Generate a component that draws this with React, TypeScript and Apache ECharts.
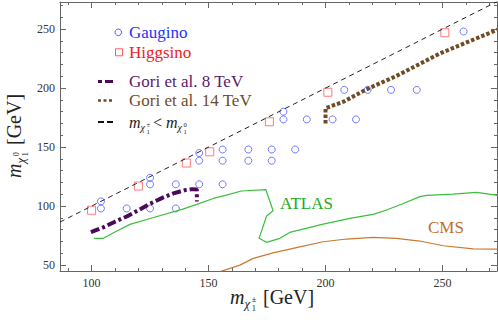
import React, { useEffect, useRef } from "react";
import * as echarts from "echarts";

const SERIF = '"Liberation Serif", "DejaVu Serif", serif';

const X_MIN = 86.5, X_MAX = 273.3, Y_MIN = 45, Y_MAX = 273;
const majorX = [100, 150, 200, 250];
const minorX = [90, 110, 120, 130, 140, 160, 170, 180, 190, 210, 220, 230, 240, 260, 270];
const majorY = [50, 100, 150, 200, 250];
const minorY = [60, 70, 80, 90, 110, 120, 130, 140, 160, 170, 180, 190, 210, 220, 230, 240, 260, 270];

const gaugino: number[][] = [
  [104, 104], [104, 98], [115, 98], [125, 124], [125, 118.5], [125, 98],
  [136, 118.5], [136, 98], [146, 145], [146, 138.5], [146, 118.5],
  [156, 148], [156, 138.5], [156, 118.5], [167, 148], [167, 138.5],
  [177, 148], [177, 138.5], [187, 148], [182, 180], [182, 173.5],
  [192, 173.5], [203, 173.5], [213, 173.5], [208, 198.5], [218, 198.5],
  [228, 198.5], [239, 198.5], [259, 248],
];
const higgsino: number[][] = [
  [100, 96.5], [120, 117], [140.5, 136.5], [150.5, 146], [176, 171.5], [201, 196.5], [251, 247],
];
const gori8: number[][] = [
  [99.7, 78], [105, 82], [110, 86.8], [115, 91.2], [120, 96.5], [125, 102],
  [130, 106.8], [135, 110.8], [140, 113.6], [143, 114.4], [145, 114], [145, 104],
];
const gori14: number[][] = [
  [200, 170], [200, 183], [207.7, 188.5], [217.5, 199], [230, 210], [249, 229.5], [273.5, 249.5],
];
const atlas: number[][] = [
  [101, 72.7], [105, 72.7], [110, 78], [116.4, 84.5], [125, 89.5], [139, 97.5],
  [145, 101.5], [152, 106.5], [158, 109.5], [164, 112.8], [174.5, 113.9],
  [177.6, 96.1], [174.8, 91.6], [171.6, 72.7], [174.8, 69.3], [180.5, 72.7],
  [184.7, 77.7], [199, 84.8], [210.4, 89.6], [220.3, 93], [226.1, 96.7],
  [233, 102], [240.3, 108], [243.2, 109.1], [254.5, 110.2], [264.5, 111.7], [273.6, 109.1],
];
const cms: number[][] = [
  [155, 44.5], [163.4, 50], [169.1, 55.7], [177.6, 60.4], [189, 65.5], [199, 69.8],
  [209, 72.1], [220.3, 73.5], [230.3, 72.7], [240.3, 70.4], [250.3, 66.4],
  [263.1, 63.8], [273.6, 63.6],
];
const diagonal: number[][] = [[X_MIN, X_MIN], [X_MAX, X_MAX]];

const C_BLUE = "#4F5BFF";
const C_RED = "#FF5A5A";
const C_PURPLE = "#4A0A55";
const C_BROWN = "#6E4C25";
const C_GREEN = "#3CBE3C";
const C_CMS = "#C87A30";

function fontStr(size: number, italic = false) {
  return `${italic ? "italic" : "normal"} normal ${size}px ${SERIF}`;
}

function T(x: number, b: number, text: string, size: number, color: string, italic = false) {
  return {
    type: "text",
    x,
    y: b - 0.34 * size,
    silent: true,
    style: {
      text,
      font: fontStr(size, italic),
      fontSize: size,
      fontFamily: SERIF,
      fontStyle: italic ? "italic" : "normal",
      fill: color,
      align: "left",
      verticalAlign: "middle",
    },
  };
}

function L(x: number, cy: number, text: string, size: number, color: string) {
  return {
    type: "text",
    x,
    y: cy,
    silent: true,
    style: {
      text,
      font: fontStr(size),
      fontSize: size,
      fontFamily: SERIF,
      fill: color,
      align: "left",
      verticalAlign: "middle",
    },
  };
}

function mathM(x: number, b: number, size: number, sup: string, sub: string, color: string) {
  const els: any[] = [];
  els.push(T(x, b, "m", size, color, true));
  const cx = x + 0.72 * size;
  const cs = 0.62 * size;
  els.push(T(cx, b + 0.2 * size, "χ", cs, color, true));
  const sx = cx + 0.6 * cs;
  const ss = 0.42 * size;
  els.push(T(sx, b - 0.1 * size, sup, ss, color));
  els.push(T(sx, b + 0.36 * size, sub, ss, color));
  return { els, width: sx - x + 0.55 * ss };
}

function makeXAxis(position: string, ticks: number[], len: number, labels: boolean, line: boolean) {
  return {
    type: "value",
    position,
    min: X_MIN,
    max: X_MAX,
    axisLine: { show: line, onZero: false, lineStyle: { color: "#666", width: 1 } },
    axisTick: { show: true, inside: true, length: len, customValues: ticks, lineStyle: { color: "#666" } },
    axisLabel: labels
      ? { show: true, customValues: ticks, fontFamily: SERIF, fontSize: 12, color: "#333", margin: 6 }
      : { show: false },
    splitLine: { show: false },
  };
}
function makeYAxis(position: string, ticks: number[], len: number, labels: boolean, line: boolean) {
  return {
    type: "value",
    position,
    min: Y_MIN,
    max: Y_MAX,
    axisLine: { show: line, onZero: false, lineStyle: { color: "#666", width: 1 } },
    axisTick: { show: true, inside: true, length: len, customValues: ticks, lineStyle: { color: "#666" } },
    axisLabel: labels
      ? { show: true, customValues: ticks, fontFamily: SERIF, fontSize: 12, color: "#333", margin: 5 }
      : { show: false },
    splitLine: { show: false },
  };
}

export default function App() {
  const ref = useRef<HTMLDivElement>(null);
  useEffect(() => {
    if (!ref.current) return;
    const chart = echarts.init(ref.current, undefined, { renderer: "svg" });

    const xTitle = mathM(230, 304, 20, "±", "1", "#222");
    const yTitle = mathM(0, 0, 20, "0", "1", "#222");
    const leg1 = mathM(129, 128, 16, "±", "1", "#222");
    const leg2 = mathM(166, 128, 16, "0", "1", "#222");

    const graphic: any[] = [
      ...xTitle.els,
      T(263, 304, "[GeV]", 20, "#222"),
      {
        type: "group",
        x: 21,
        y: 178,
        rotation: Math.PI / 2,
        children: [...yTitle.els, T(33, 0, "[GeV]", 20, "#222")],
      },
      // legend
      { type: "circle", shape: { cx: 118.3, cy: 32.3, r: 3.3 }, style: { fill: "none", stroke: C_BLUE, lineWidth: 1 }, silent: true },
      L(129, 32, "Gaugino", 17, "#2233FF"),
      { type: "rect", shape: { x: 115.5, y: 48.8, width: 7, height: 7 }, style: { fill: "none", stroke: C_RED, lineWidth: 1 }, silent: true },
      L(129, 52, "Higgsino", 17, "#EE2222"),
      { type: "line", shape: { x1: 98, y1: 81.5, x2: 114, y2: 81.5 }, style: { stroke: C_PURPLE, lineWidth: 3, lineDash: [4, 3, 8, 3] }, silent: true },
      L(129, 81.5, "Gori et al. 8 TeV", 17, "#5A1A6E"),
      { type: "line", shape: { x1: 98, y1: 100.5, x2: 114, y2: 100.5 }, style: { stroke: C_BROWN, lineWidth: 2.5, lineDash: [3, 2.5] }, silent: true },
      L(129, 100.5, "Gori et al. 14 TeV", 17, "#6E4C25"),
      { type: "line", shape: { x1: 98, y1: 122, x2: 115, y2: 122 }, style: { stroke: "#111", lineWidth: 2, lineDash: [6, 3] }, silent: true },
      ...leg1.els,
      T(153, 128, "<", 16, "#222"),
      ...leg2.els,
      // region labels
      L(280, 203, "ATLAS", 17, "#22AA22"),
      L(428, 227, "CMS", 17, "#C0702A"),
    ];

    const option: any = {
      animation: false,
      backgroundColor: "#fff",
      grid: { left: 60, right: 1, top: 2, bottom: 54, containLabel: false },
      xAxis: [
        makeXAxis("bottom", majorX, 6, true, true),
        makeXAxis("bottom", minorX, 3, false, false),
        makeXAxis("top", majorX, 6, false, true),
        makeXAxis("top", minorX, 3, false, false),
      ],
      yAxis: [
        makeYAxis("left", majorY, 6, true, true),
        makeYAxis("left", minorY, 3, false, false),
        makeYAxis("right", majorY, 6, false, true),
        makeYAxis("right", minorY, 3, false, false),
      ],
      series: [
        { type: "line", data: diagonal, symbol: "none", lineStyle: { color: "#222", width: 1, type: [5, 4] }, silent: true },
        { type: "line", data: atlas, symbol: "none", lineStyle: { color: C_GREEN, width: 1.2 }, silent: true, clip: true },
        { type: "line", data: cms, symbol: "none", lineStyle: { color: C_CMS, width: 1.2 }, silent: true, clip: true },
        { type: "line", data: gori8, symbol: "none", lineStyle: { color: C_PURPLE, width: 4, type: [9, 3, 3, 3] }, silent: true },
        { type: "line", data: gori14, symbol: "none", lineStyle: { color: C_BROWN, width: 4, type: [3.5, 2] }, silent: true },
        { type: "scatter", data: gaugino, symbol: "circle", symbolSize: 7, itemStyle: { color: "rgba(0,0,0,0)", borderColor: C_BLUE, borderWidth: 1 }, silent: true },
        { type: "scatter", data: higgsino, symbol: "rect", symbolSize: 8, itemStyle: { color: "rgba(0,0,0,0)", borderColor: C_RED, borderWidth: 1 }, silent: true },
      ],
      graphic,
    };
    chart.setOption(option);
    return () => chart.dispose();
  }, []);
  return (
    <div
      ref={ref}
      style={{ position: "absolute", left: 0, top: 0, width: 498, height: 325, background: "#fff" }}
    />
  );
}
